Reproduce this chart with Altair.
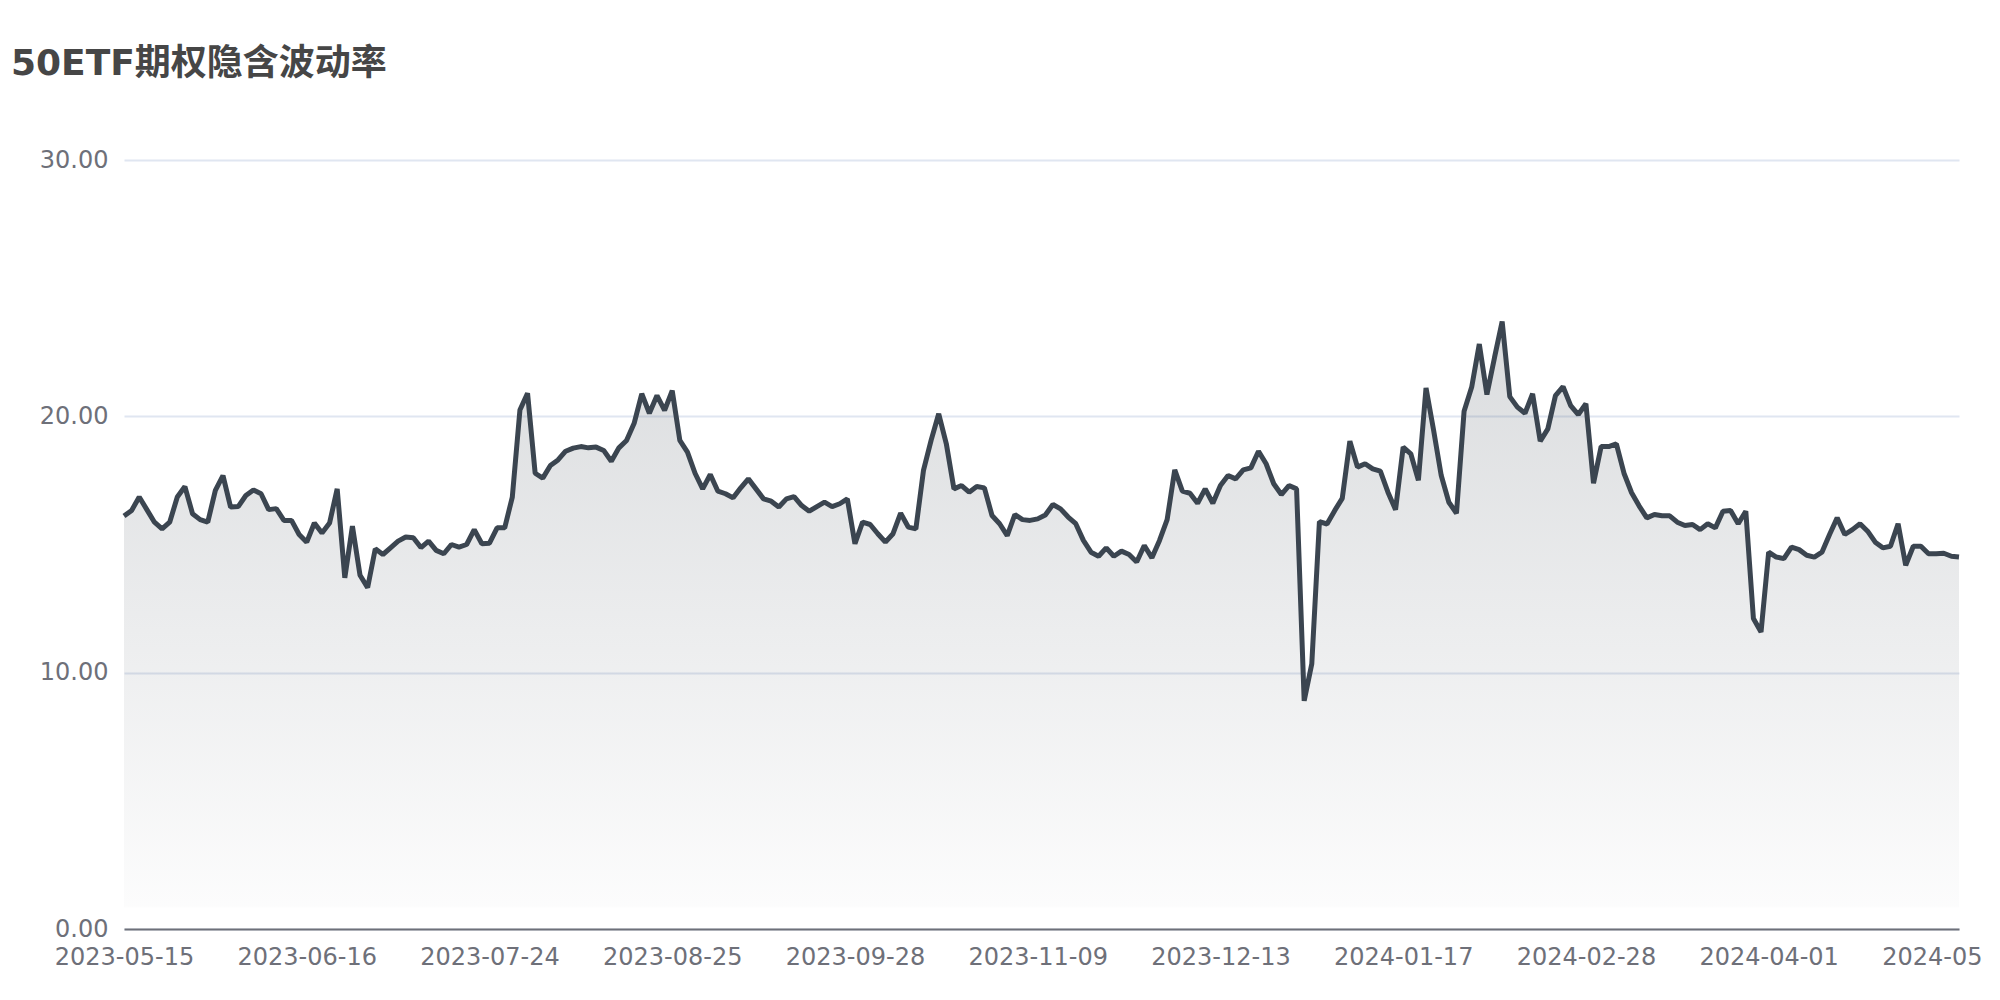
import altair as alt
import pandas as pd

# 50ETF option implied volatility, one value per trading day (index 0 = 2023-05-15)
iv_values = [
    16.11, 16.33, 16.85, 16.36, 15.87, 15.61, 15.87, 16.85, 17.26, 16.2,
    15.97, 15.87, 17.11, 17.69, 16.46, 16.48, 16.91, 17.13, 16.98, 16.36,
    16.4, 15.94, 15.94, 15.39, 15.09, 15.84, 15.45, 15.84, 17.17, 13.7,
    15.72, 13.8, 13.32, 14.83, 14.61, 14.87, 15.13, 15.29, 15.26, 14.88,
    15.13,
    14.77, 14.64, 15.0, 14.9, 15.0, 15.58, 15.03, 15.05, 15.65, 15.65,
    16.85, 20.25, 20.9, 17.78, 17.59, 18.08, 18.3, 18.64, 18.76, 18.82,
    18.77, 18.8, 18.67, 18.25, 18.77, 19.06, 19.73, 20.88, 20.12, 20.81,
    20.23, 21.0, 19.06, 18.6, 17.78, 17.17, 17.73, 17.08, 16.98, 16.82,
    17.21, 17.56, 17.17, 16.78, 16.69, 16.46, 16.78, 16.87, 16.52, 16.3,
    16.48, 16.65, 16.48, 16.59, 16.78, 15.03, 15.87, 15.78, 15.42, 15.09,
    15.42, 16.22, 15.68, 15.61, 17.89, 19.06, 20.1, 18.93, 17.17, 17.3,
    17.04, 17.26, 17.21, 16.13, 15.81, 15.35, 16.17, 15.97, 15.94, 16.0,
    16.15, 16.56, 16.39, 16.07, 15.81, 15.16, 14.7, 14.54, 14.87, 14.54,
    14.74, 14.61, 14.32, 14.96, 14.48, 15.16, 15.97, 17.91, 17.08, 17.0,
    16.61, 17.17, 16.61, 17.3, 17.69, 17.56, 17.91, 17.99, 18.64, 18.15,
    17.37, 16.95, 17.3, 17.17, 8.9, 10.35, 15.89, 15.8, 16.32, 16.8,
    19.03, 18.02, 18.15, 17.95, 17.86, 17.04, 16.36, 18.8, 18.54, 17.5,
    21.11, 19.45, 17.69, 16.65, 16.22, 20.2, 21.14, 22.82, 20.85, 22.3,
    23.7, 20.77, 20.36, 20.12, 20.88, 19.03, 19.51, 20.81, 21.16, 20.42,
    20.07, 20.49, 17.39, 18.82, 18.82, 18.93, 17.78, 17.02, 16.5,
    16.04, 16.17, 16.12, 16.12, 15.87, 15.74, 15.78, 15.58, 15.81, 15.65,
    16.3, 16.33, 15.81, 16.3, 12.11, 11.59, 14.7, 14.51, 14.45, 14.9,
    14.8, 14.58, 14.51, 14.7, 15.39, 16.04, 15.39, 15.58, 15.81, 15.52,
    15.09, 14.87, 14.93, 15.81, 14.19, 14.93, 14.93, 14.64, 14.64, 14.66,
    14.54, 14.51,
]

# category-axis labels shown every 24 trading days
tick_labels = [
    "2023-05-15", "2023-06-16", "2023-07-24", "2023-08-25", "2023-09-28",
    "2023-11-09", "2023-12-13", "2024-01-17", "2024-02-28", "2024-04-01",
    "2024-05-10",
]
tick_step = 24
y_ticks = [0, 10, 20, 30]

df = pd.DataFrame({"i": list(range(len(iv_values))), "v": iv_values})

FONT = "DejaVu Sans, Noto Sans CJK SC"
LABEL_COLOR = "#6e7079"

label_js = "[" + ",".join("'%s'" % s for s in tick_labels) + "]"

x_enc = alt.X(
    "i:Q",
    scale=alt.Scale(domain=[0, len(iv_values) - 1], nice=False, zero=False),
    axis=alt.Axis(
        values=[k * tick_step for k in range(len(tick_labels))],
        labelExpr=label_js + "[round(datum.value / %d)]" % tick_step,
        title=None,
        grid=False,
        ticks=False,
        tickSize=0,
        labelFont=FONT,
        labelFontSize=24,
        labelColor=LABEL_COLOR,
        labelPadding=16,
        labelFlush=False,
        labelOverlap=False,
        domainColor=LABEL_COLOR,
        domainWidth=2,
    ),
)

y_enc = alt.Y(
    "v:Q",
    scale=alt.Scale(domain=[0, 30], nice=False),
    axis=alt.Axis(
        values=y_ticks,
        format=".2f",
        title=None,
        ticks=False,
        tickSize=0,
        domain=False,
        grid=True,
        gridColor="#e0e6f1",
        gridWidth=2,
        labelFont=FONT,
        labelFontSize=24,
        labelColor=LABEL_COLOR,
        labelPadding=16,
    ),
)

fill = alt.Gradient(
    gradient="linear",
    x1=0, x2=0, y1=0, y2=1,
    stops=[
        alt.GradientStop(color="rgba(59,69,80,0.19)", offset=0),
        alt.GradientStop(color="rgba(59,69,80,0.015)", offset=0.962),
        alt.GradientStop(color="rgba(59,69,80,0)", offset=0.966),
    ],
)

area = alt.Chart(df).mark_area(color=fill).encode(x=x_enc, y=y_enc)
line = alt.Chart(df).mark_line(
    color="#3b4550", strokeWidth=5, strokeJoin="bevel"
).encode(x=x_enc, y=y_enc)

chart = (
    alt.layer(area, line)
    .properties(
        width=1835,
        height=769,
        padding={"left": 116, "top": 152, "right": 24, "bottom": 60},
        autosize=alt.AutoSizeParams(type="none"),
        title=alt.TitleParams(
            text="50ETF期权隐含波动率",
            anchor="start",
            frame="group",
            font=FONT,
            fontSize=36,
            fontWeight="bold",
            color="#464646",
            dx=-113,
            offset=37,
            baseline="alphabetic",
        ),
    )
    .configure(
        background="white",
        view=alt.ViewConfig(stroke="transparent", strokeWidth=0),
    )
)

chart.save("out.html", embed_options={"renderer": "svg", "actions": False})
